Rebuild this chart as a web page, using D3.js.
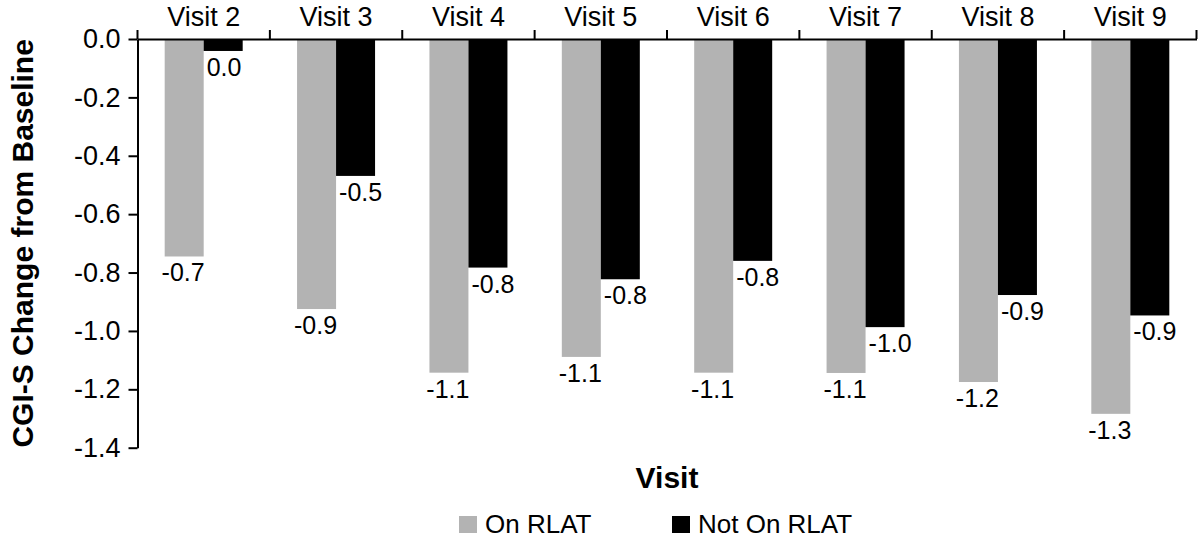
<!DOCTYPE html>
<html>
<head>
<meta charset="utf-8">
<script src="https://cdn.jsdelivr.net/npm/d3@7"></script>
<style>
  html, body { margin: 0; padding: 0; background: #fff; }
  text { font-family: "Liberation Sans", Arial, sans-serif; fill: #000; }
</style>
</head>
<body>
<svg id="chart" width="1200" height="542"></svg>
<script>
const categories = ["Visit 2", "Visit 3", "Visit 4", "Visit 5", "Visit 6", "Visit 7", "Visit 8", "Visit 9"];
const seriesNames = ["On RLAT", "Not On RLAT"];
const onRlat    = [-0.745, -0.925, -1.143, -1.089, -1.143, -1.144, -1.175, -1.284];
const notOnRlat = [-0.041, -0.469, -0.783, -0.823, -0.760, -0.987, -0.877, -0.947];
const onRlatLabels    = ["-0.7", "-0.9", "-1.1", "-1.1", "-1.1", "-1.1", "-1.2", "-1.3"];
const notOnRlatLabels = ["0.0", "-0.5", "-0.8", "-0.8", "-0.8", "-1.0", "-0.9", "-0.9"];
const yTicks = [0, -0.2, -0.4, -0.6, -0.8, -1.0, -1.2, -1.4];
const yTickLabels = ["0.0", "-0.2", "-0.4", "-0.6", "-0.8", "-1.0", "-1.2", "-1.4"];
const colors = ["#b3b3b3", "#000000"];

(function () {
const svg = d3.select("#chart");
const mLeft = 137.5, mRight = 1196.5, mTop = 39, mBottom = 447.7;

const x = d3.scaleBand().domain(categories).range([mLeft, mRight]).padding(0);
const y = d3.scaleLinear().domain([0, -1.4]).range([mTop, mBottom]);
const barW = 39;
const inner = d3.scaleBand().domain(seriesNames).range([0, barW * 2]);
const groupOffset = (x.bandwidth() - barW * 2) / 2;

const series = [
  { name: seriesNames[0], values: onRlat, labels: onRlatLabels, color: colors[0] },
  { name: seriesNames[1], values: notOnRlat, labels: notOnRlatLabels, color: colors[1] }
];

series.forEach((s, si) => {
  svg.append("g").selectAll("rect")
    .data(categories)
    .join("rect")
    .attr("x", (c) => x(c) + groupOffset + inner(s.name))
    .attr("y", y(0))
    .attr("width", inner.bandwidth())
    .attr("height", (c, i) => y(s.values[i]) - y(0))
    .attr("fill", s.color);

  svg.append("g").selectAll("text")
    .data(categories)
    .join("text")
    .attr("x", (c) => si === 0
      ? x(c) + groupOffset + inner(s.name) + inner.bandwidth() + 1
      : x(c) + groupOffset + inner(s.name) + 3)
    .attr("y", (c, i) => y(s.values[i]) + 25)
    .attr("text-anchor", si === 0 ? "end" : "start")
    .attr("font-size", 25)
    .text((c, i) => s.labels[i]);
});

const yAxis = d3.axisLeft(y)
  .tickValues(yTicks)
  .tickFormat((d, i) => yTickLabels[i])
  .tickSize(9)
  .tickSizeOuter(0)
  .tickPadding(8);
const gy = svg.append("g").attr("transform", `translate(${mLeft},0)`).call(yAxis);
gy.select(".domain").attr("stroke", "#000").attr("stroke-width", 2);
gy.selectAll(".tick line").attr("stroke", "#000").attr("stroke-width", 2);
gy.selectAll(".tick text").attr("font-size", 27).attr("font-family", "Liberation Sans, Arial, sans-serif").attr("fill", "#000");

const xAxis = d3.axisTop(x).tickSize(0).tickSizeOuter(0).tickPadding(13);
const gx = svg.append("g").attr("transform", `translate(0,${mTop})`).call(xAxis);
gx.select(".domain").attr("stroke", "#000").attr("stroke-width", 2);
gx.selectAll(".tick text").attr("font-size", 27).attr("font-family", "Liberation Sans, Arial, sans-serif").attr("fill", "#000");

const bounds = categories.map((c) => x(c)).concat([x(categories[categories.length - 1]) + x.bandwidth()]);
svg.append("g").selectAll("line")
  .data(bounds)
  .join("line")
  .attr("x1", (d) => d).attr("x2", (d) => d)
  .attr("y1", mTop).attr("y2", mTop - 9)
  .attr("stroke", "#000").attr("stroke-width", 2);

svg.append("text")
  .attr("x", (mLeft + mRight) / 2)
  .attr("y", 488)
  .attr("text-anchor", "middle")
  .attr("font-size", 30)
  .attr("font-weight", "bold")
  .text("Visit");

svg.append("text")
  .attr("transform", `translate(33,${(mTop + mBottom) / 2}) rotate(-90)`)
  .attr("text-anchor", "middle")
  .attr("font-size", 30)
  .attr("font-weight", "bold")
  .text("CGI-S Change from Baseline");

const legendX = [459, 672];
const legend = svg.append("g");
series.forEach((s, i) => {
  legend.append("rect")
    .attr("x", legendX[i]).attr("y", 516)
    .attr("width", 18).attr("height", 17)
    .attr("fill", s.color);
  legend.append("text")
    .attr("x", legendX[i] + 26).attr("y", 533)
    .attr("font-size", 26)
    .text(s.name);
});
})();
</script>
</body>
</html>
